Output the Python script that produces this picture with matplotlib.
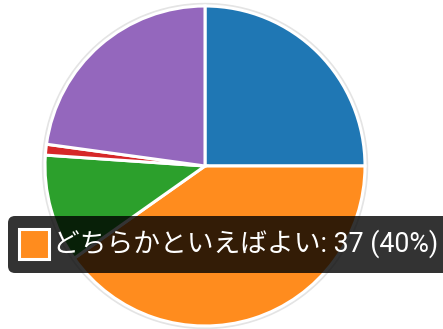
import matplotlib
matplotlib.use("Agg")
import matplotlib.pyplot as plt
from matplotlib.patches import FancyBboxPatch, Rectangle, Circle

plt.rcParams['font.family'] = ['Roboto', 'Noto Sans CJK JP', 'DejaVu Sans']

labels = ["よい", "どちらかといえばよい", "どちらかといえばよくない", "よくない", "わからない"]
values = [23, 37, 10, 1, 21]
colors = ["#1f77b4", "#ff8c1e", "#2ca02c", "#d62728", "#9467bd"]
tip_index = 1

W, H = 443, 329
fig = plt.figure(figsize=(W / 100, H / 100), dpi=100)
ax = fig.add_axes([0, 0, 1, 1])

cx, cy, r = 205, H - 166, 160
ax.add_patch(Circle((cx, cy), r + 2.5, color="#e4e4e4", zorder=0))
ax.pie(values, colors=colors, startangle=90, counterclock=False,
       center=(cx, cy), radius=r,
       wedgeprops=dict(edgecolor="white", linewidth=2.2))
ax.set_xlim(0, W)
ax.set_ylim(0, H)
ax.set_aspect('equal')
ax.axis('off')

# tooltip
total = sum(values)
pct = round(values[tip_index] / total * 100)
tip = FancyBboxPatch((8, H - 273), 460, 57,
                     boxstyle="round,pad=0,rounding_size=7",
                     facecolor=(0, 0, 0, 0.8), edgecolor="none", zorder=5)
ax.add_patch(tip)
ax.add_patch(Rectangle((19, H - 259), 30, 30, facecolor=colors[tip_index],
                       edgecolor="white", linewidth=2.2, zorder=6))
ax.text(53, H - 244, f"{labels[tip_index]}: {values[tip_index]} ({pct}%)",
        color="white", fontsize=19.3, va="center", ha="left", zorder=7)

fig.savefig("out.png", dpi=100)
